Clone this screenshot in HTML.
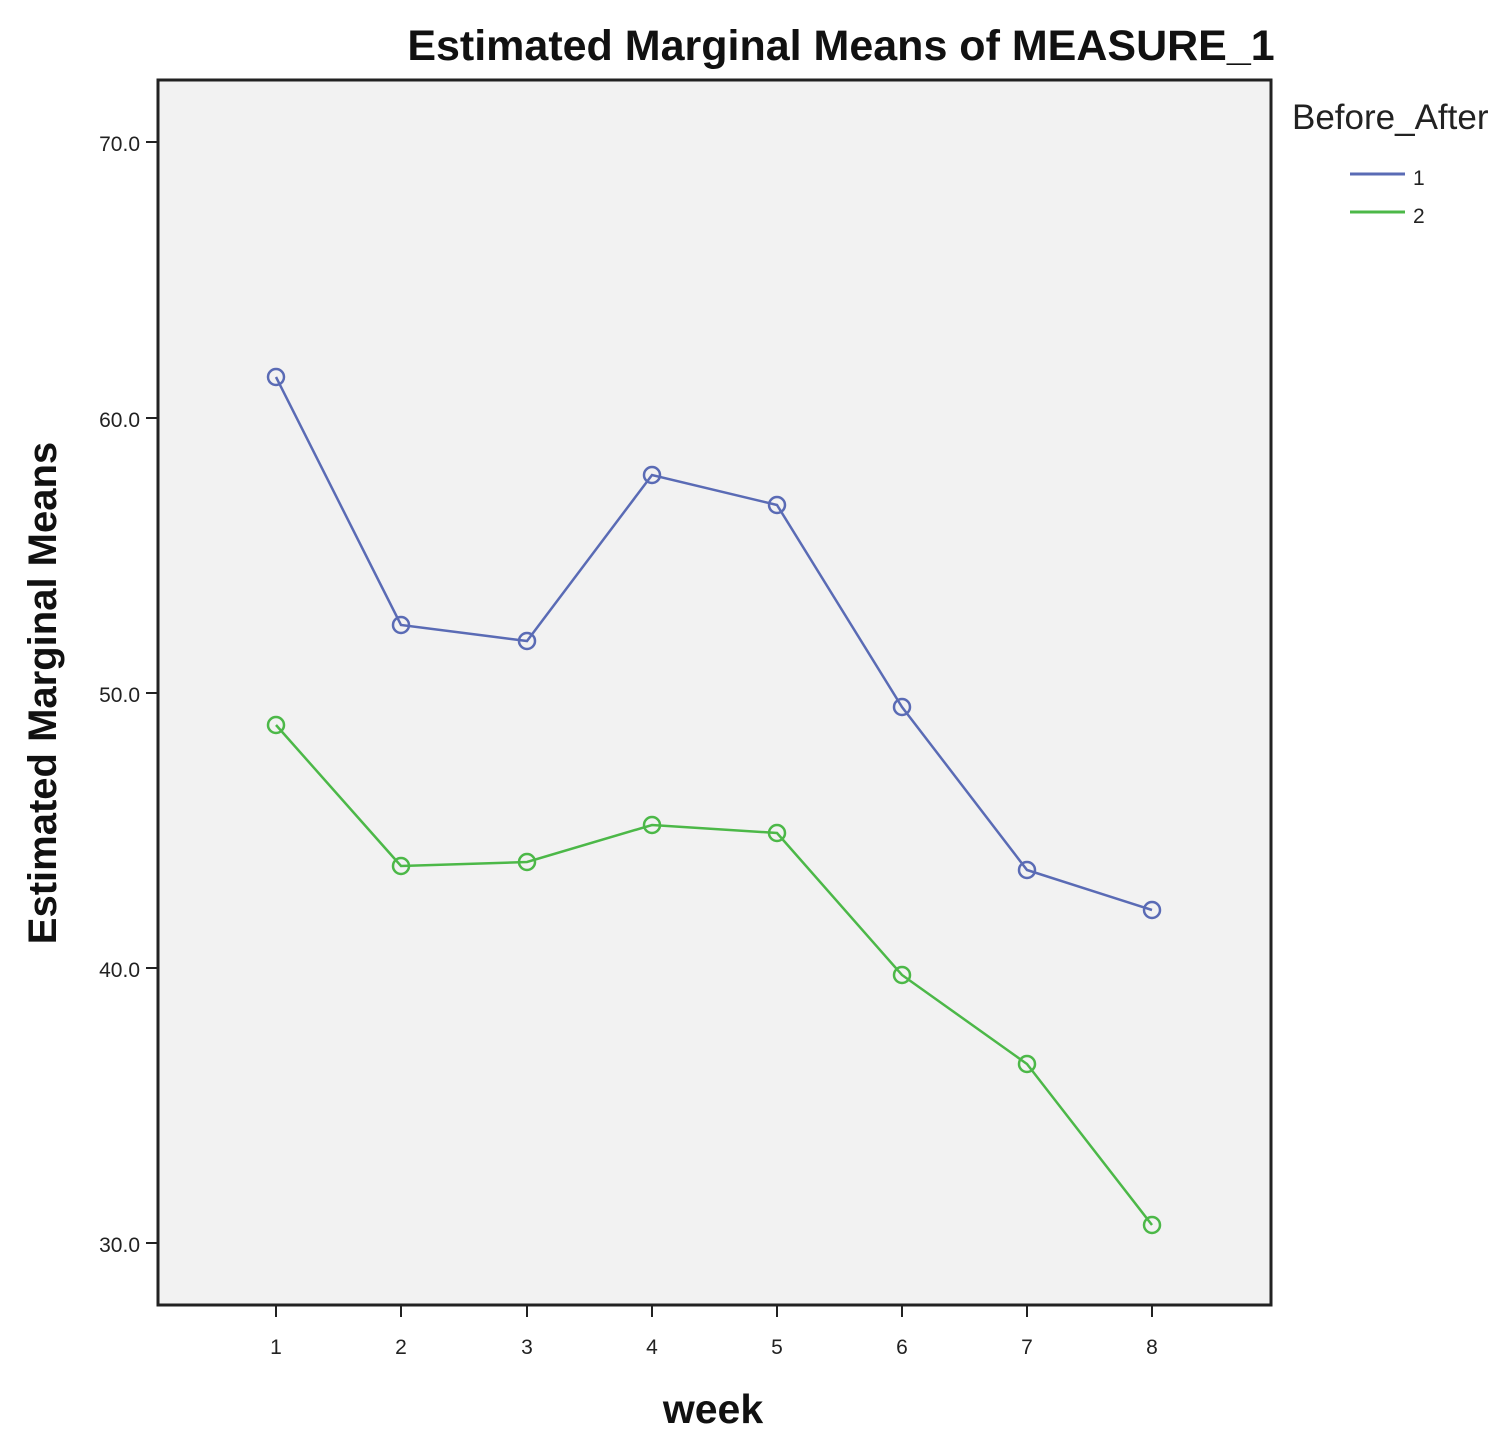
<!DOCTYPE html>
<html><head><meta charset="utf-8"><style>
html,body{margin:0;padding:0;background:#fff;}
svg{display:block;}
</style></head><body>
<svg width="1500" height="1442" xmlns="http://www.w3.org/2000/svg" font-family="Liberation Sans, sans-serif">
<rect x="0" y="0" width="1500" height="1442" fill="#fff"/>
<rect x="158" y="80" width="1113" height="1225" fill="#f2f2f2" stroke="#222" stroke-width="3"/>
<text x="841" y="60" font-size="43" font-weight="bold" text-anchor="middle" fill="#111">Estimated Marginal Means of MEASURE_1</text>
<text transform="translate(56,693) rotate(-90)" font-size="40" font-weight="bold" text-anchor="middle" fill="#111">Estimated Marginal Means</text>
<text x="713" y="1423" font-size="41" font-weight="bold" text-anchor="middle" fill="#111">week</text>
<g stroke="#222" stroke-width="2">
<line x1="146" y1="142" x2="158" y2="142"/><line x1="146" y1="418" x2="158" y2="418"/>
<line x1="146" y1="693" x2="158" y2="693"/><line x1="146" y1="968" x2="158" y2="968"/>
<line x1="146" y1="1243" x2="158" y2="1243"/>
<line x1="276" y1="1305" x2="276" y2="1317"/><line x1="401" y1="1305" x2="401" y2="1317"/>
<line x1="527" y1="1305" x2="527" y2="1317"/><line x1="652" y1="1305" x2="652" y2="1317"/>
<line x1="777" y1="1305" x2="777" y2="1317"/><line x1="902" y1="1305" x2="902" y2="1317"/>
<line x1="1027" y1="1305" x2="1027" y2="1317"/><line x1="1152" y1="1305" x2="1152" y2="1317"/>
</g>
<g font-size="21" fill="#222" text-anchor="end">
<text x="140" y="151">70.0</text><text x="140" y="427">60.0</text><text x="140" y="702">50.0</text>
<text x="140" y="977">40.0</text><text x="140" y="1252">30.0</text>
</g>
<g font-size="21" fill="#222" text-anchor="middle">
<text x="276" y="1354">1</text><text x="401" y="1354">2</text><text x="527" y="1354">3</text><text x="652" y="1354">4</text>
<text x="777" y="1354">5</text><text x="902" y="1354">6</text><text x="1027" y="1354">7</text><text x="1152" y="1354">8</text>
</g>
<g fill="none" stroke="#5a6bb5" stroke-width="2.5">
<polyline points="276,377 401,625 527,641 652,475 777,505 902,707 1027,870 1152,910"/>
<circle cx="276" cy="377" r="8"/><circle cx="401" cy="625" r="8"/><circle cx="527" cy="641" r="8"/><circle cx="652" cy="475" r="8"/>
<circle cx="777" cy="505" r="8"/><circle cx="902" cy="707" r="8"/><circle cx="1027" cy="870" r="8"/><circle cx="1152" cy="910" r="8"/>
</g>
<g fill="none" stroke="#4cb848" stroke-width="2.5">
<polyline points="276,725 401,866 527,862 652,825 777,833 902,975 1027,1064 1152,1225"/>
<circle cx="276" cy="725" r="8"/><circle cx="401" cy="866" r="8"/><circle cx="527" cy="862" r="8"/><circle cx="652" cy="825" r="8"/>
<circle cx="777" cy="833" r="8"/><circle cx="902" cy="975" r="8"/><circle cx="1027" cy="1064" r="8"/><circle cx="1152" cy="1225" r="8"/>
</g>
<text x="1292" y="129" font-size="35" fill="#222">Before_After</text>
<line x1="1350" y1="174" x2="1405" y2="174" stroke="#5a6bb5" stroke-width="3"/>
<line x1="1350" y1="212" x2="1405" y2="212" stroke="#4cb848" stroke-width="3"/>
<text x="1413" y="185" font-size="21" fill="#222">1</text>
<text x="1413" y="223" font-size="21" fill="#222">2</text>
</svg>
</body></html>
